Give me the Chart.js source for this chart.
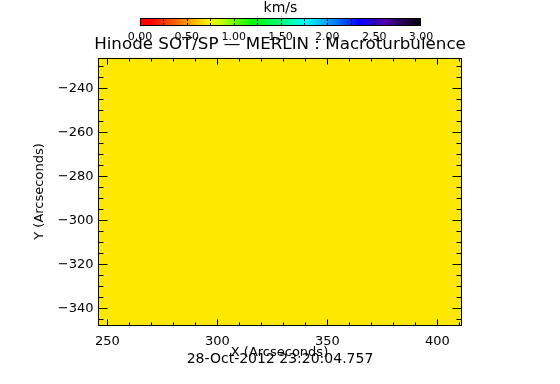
<!DOCTYPE html>
<html>
<head>
<meta charset="utf-8">
<title>Hinode SOT/SP - MERLIN : Macroturbulence</title>
<script src="https://cdn.jsdelivr.net/npm/chart.js@4"></script>
<style>
    html, body { margin: 0; padding: 0; background: #fff; }
    #wrap { width: 560px; height: 384px; }
</style>
</head>
<body>
<div id="wrap"><canvas id="macroChart" width="560" height="384"></canvas></div>
<script>
// Map extent (arcsec) and the value the raster holds
const xRange = [245.5, 411.0];
const yRange = [-347.8, -226.0];
const mapValues = [0.70];
const xTicks = [250, 300, 350, 400];
const yTicks = [-340, -320, -300, -280, -260, -240];
const xMinorStep = 10;
const yMinorStep = 5;

// Colour bar (km/s)
const cbarRange = [0, 3];
const cbarLabels = [0, 0.5, 1, 1.5, 2, 2.5, 3];
const cbarMinorStep = 0.25;
const obsDate = '28-Oct-2012 23:20:04.757';

const FONT = 'DejaVu Sans';

// colour table, red -> yellow -> green -> cyan -> blue -> purple -> black
const ctStops = [
    [0.00, 255, 0, 0],
    [0.04, 255, 0, 0],
    [0.16, 255, 140, 0],
    [0.24, 255, 240, 0],
    [0.28, 210, 255, 0],
    [0.40, 0, 255, 0],
    [0.50, 0, 255, 120],
    [0.59, 0, 255, 255],
    [0.70, 0, 120, 255],
    [0.78, 0, 0, 255],
    [0.87, 80, 0, 170],
    [1.00, 0, 0, 0]
];

function colormap(v) {
    let t = (v - cbarRange[0]) / (cbarRange[1] - cbarRange[0]);
    t = Math.max(0, Math.min(1, t));
    for (let i = 1; i < ctStops.length; i++) {
        const a = ctStops[i - 1], b = ctStops[i];
        if (t <= b[0]) {
            const f = (t - a[0]) / (b[0] - a[0]);
            const c = [1, 2, 3].map(k => Math.round(a[k] + (b[k] - a[k]) * f));
            return `rgb(${c[0]}, ${c[1]}, ${c[2]})`;
        }
    }
    return 'rgb(0, 0, 0)';
}

const minus = v => String(v).replace('-', '\u2212');

// frame, inward ticks on all four sides, and the colour bar
const idlFrame = {
    id: 'idlFrame',
    afterDatasetsDraw(chart) {
        const ctx = chart.ctx;
        const area = chart.chartArea;
        const xs = chart.scales.x;
        const ys = chart.scales.y;
        const L = Math.round(area.left) + 0.5, R = Math.round(area.right) - 0.5;
        const T = Math.round(area.top) + 0.5, B = Math.round(area.bottom) - 0.5;

        ctx.save();
        ctx.strokeStyle = '#000';
        ctx.lineWidth = 1;
        ctx.strokeRect(L, T, R - L, B - T);

        ctx.beginPath();
        // x ticks
        for (let v = Math.ceil(xs.min / xMinorStep) * xMinorStep; v <= xs.max; v += xMinorStep) {
            const len = xTicks.includes(v) ? 6 : 3;
            const px = Math.round(xs.getPixelForValue(v)) + 0.5;
            ctx.moveTo(px, B); ctx.lineTo(px, B - len);
            ctx.moveTo(px, T); ctx.lineTo(px, T + len);
        }
        // y ticks
        for (let v = Math.ceil(ys.min / yMinorStep) * yMinorStep; v <= ys.max; v += yMinorStep) {
            const len = yTicks.includes(v) ? 9 : 5;
            const py = Math.round(ys.getPixelForValue(v)) + 0.5;
            ctx.moveTo(L, py); ctx.lineTo(L + len, py);
            ctx.moveTo(R, py); ctx.lineTo(R - len, py);
        }
        ctx.stroke();

        // colour bar
        const cb = { left: 140, right: 421, top: 18, bottom: 26 };
        const w = cb.right - cb.left;
        for (let i = 0; i < w; i++) {
            const v = cbarRange[0] + (cbarRange[1] - cbarRange[0]) * (i + 0.5) / w;
            ctx.fillStyle = colormap(v);
            ctx.fillRect(cb.left + i, cb.top, 1, cb.bottom - cb.top);
        }
        ctx.strokeRect(cb.left + 0.5, cb.top + 0.5, w - 1, cb.bottom - cb.top - 1);
        const cbPix = v => cb.left + (v - cbarRange[0]) / (cbarRange[1] - cbarRange[0]) * w;
        ctx.beginPath();
        for (let v = cbarRange[0] + cbarMinorStep; v < cbarRange[1]; v += cbarMinorStep) {
            const px = Math.round(cbPix(v)) + 0.5;
            ctx.moveTo(px, cb.top); ctx.lineTo(px, cb.top + 3);
            ctx.moveTo(px, cb.bottom); ctx.lineTo(px, cb.bottom - 3);
        }
        ctx.stroke();

        ctx.fillStyle = '#000';
        ctx.textAlign = 'center';
        ctx.textBaseline = 'middle';
        ctx.font = `11px "${FONT}"`;
        cbarLabels.forEach(v => ctx.fillText(v.toFixed(2), cbPix(v), 37));
        ctx.font = `14px "${FONT}"`;
        ctx.fillText('km/s', (cb.left + cb.right) / 2, 8);
        ctx.restore();
    }
};

const ctx = document.getElementById('macroChart').getContext('2d');
const macroChart = new Chart(ctx, {
    type: 'line',
    data: {
        datasets: [{
            label: 'Macroturbulence',
            data: [
                { x: xRange[0], y: yRange[1] },
                { x: xRange[1], y: yRange[1] }
            ],
            fill: 'start',
            backgroundColor: colormap(mapValues[0]),
            borderWidth: 0,
            pointRadius: 0
        }]
    },
    options: {
        responsive: false,
        animation: false,
        devicePixelRatio: 1,
        layout: { padding: 0 },
        scales: {
            x: {
                type: 'linear',
                min: xRange[0],
                max: xRange[1],
                afterBuildTicks: s => { s.ticks = xTicks.map(v => ({ value: v })); },
                afterFit: s => { s.height = 34.5; },
                grid: { display: false, drawTicks: false },
                border: { display: false },
                ticks: {
                    color: '#000',
                    font: { family: FONT, size: 13 },
                    padding: 8,
                    maxRotation: 0,
                    autoSkip: false
                },
                title: {
                    display: true,
                    text: 'X (Arcseconds)',
                    color: '#000',
                    font: { family: FONT, size: 13 },
                    padding: { top: 0, bottom: 0 }
                }
            },
            y: {
                type: 'linear',
                min: yRange[0],
                max: yRange[1],
                afterBuildTicks: s => { s.ticks = yTicks.map(v => ({ value: v })); },
                afterFit: s => { s.width = 97.5; },
                grid: { display: false, drawTicks: false },
                border: { display: false },
                ticks: {
                    color: '#000',
                    font: { family: FONT, size: 13 },
                    padding: 4,
                    autoSkip: false,
                    callback: v => minus(v)
                },
                title: {
                    display: true,
                    text: 'Y (Arcseconds)',
                    color: '#000',
                    font: { family: FONT, size: 13 },
                    padding: { top: 32, bottom: 0 }
                }
            },
            yRight: {
                type: 'linear',
                position: 'right',
                min: yRange[0],
                max: yRange[1],
                afterFit: s => { s.width = 98.5; },
                grid: { display: false, drawTicks: false },
                border: { display: false },
                ticks: { display: false }
            }
        },
        plugins: {
            legend: { display: false },
            tooltip: { enabled: false },
            title: {
                display: true,
                text: 'Hinode SOT/SP \u2014 MERLIN : Macroturbulence',
                color: '#000',
                font: { family: FONT, size: 16.7, weight: 'normal' },
                padding: { top: 35, bottom: 2.46 }
            },
            subtitle: {
                display: true,
                position: 'bottom',
                text: obsDate,
                color: '#000',
                font: { family: FONT, size: 14, weight: 'normal' },
                padding: { top: -9.4, bottom: 16.6 }
            }
        }
    },
    plugins: [idlFrame]
});
</script>
</body>
</html>
